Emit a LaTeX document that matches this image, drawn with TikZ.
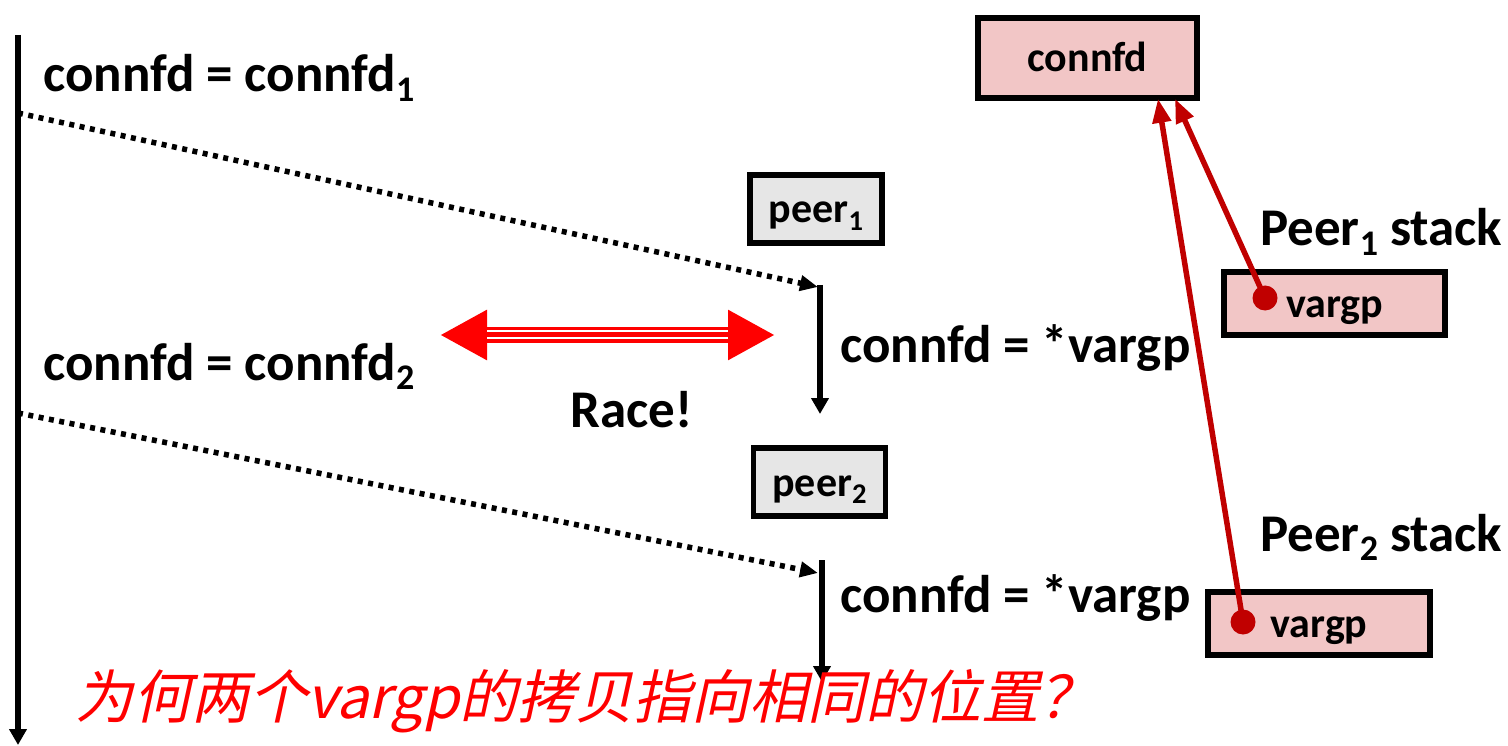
\documentclass[tikz,border=0pt]{standalone}
\usepackage{fontspec}
\setmainfont{Carlito}
\newfontfamily\cjk{Noto Sans CJK SC}[FakeSlant=0.22]
\usetikzlibrary{arrows.meta,calc}

\definecolor{boxgray}{HTML}{E6E6E6}
\definecolor{mempink}{HTML}{F2C6C6}
\definecolor{ptrred}{HTML}{C00000}
\definecolor{racered}{HTML}{FF0000}

% lowered small index, as in connfd_1
\newcommand\lowidx[1]{\raisebox{-0.17em}{\scalebox{0.68}{#1}}}

\tikzset{
  lbl/.style={anchor=base west, inner sep=0pt, font=\bfseries\fontsize{53}{62}\selectfont},
  threadline/.style={line width=6pt, -{Triangle[length=16pt,width=17pt]}},
  spawn/.style={line width=5.5pt, dash pattern=on 5pt off 5.5pt, -{Triangle[length=18pt,width=15pt]}},
  boxtext/.style={inner sep=0pt, text height=34pt, text depth=6pt,
    font=\bfseries\fontsize{42}{50}\selectfont},
  thrbox/.style={boxtext, draw, line width=5.5pt, fill=boxgray, minimum width=132pt, minimum height=68pt},
  membox/.style={boxtext, draw, line width=5.5pt, fill=mempink},
  ptr/.style={ptrred, line width=5.5pt, -{Triangle[length=24pt,width=18pt]}},
  ptrdot/.style={circle, fill=ptrred, inner sep=0pt, minimum size=25pt},
}

\begin{document}
\begin{tikzpicture}[x=1pt,y=-1pt]
\useasboundingbox (0,0) rectangle (1508,746);

% main thread timeline
\coordinate (mtop) at (18,35);
\coordinate (mbot) at (18,745);
\draw[threadline] (mtop) -- (mbot);
\node[lbl] (acc1) at (43,92) {connfd = connfd\lowidx{1}};
\node[lbl] (acc2) at (43,380) {connfd = connfd\lowidx{2}};

% spawn points on the main timeline
\coordinate (s1) at (18,113);
\coordinate (s2) at (18,413);

% peer thread 1
\node[thrbox] (peer1) at (816,209) {peer\lowidx{1}};
\coordinate (p1top) at (820,285);
\coordinate (p1bot) at (820,414);
\draw[threadline] (p1top) -- (p1bot);
\draw[spawn] (s1) -- (818,287);
\node[lbl] (rd1) at (840,362) {connfd = *vargp};

% peer thread 2
\node[thrbox] (peer2) at (819.5,482) {peer\lowidx{2}};
\coordinate (p2top) at (822,560);
\coordinate (p2bot) at (822,682);
\draw[threadline] (p2top) -- (p2bot);
\draw[spawn] (s2) -- (818,573);
\node[lbl] (rd2) at (840,612) {connfd = *vargp};

% race marker: double-headed arrow with striped shaft
\coordinate (ra) at (440,335);
\coordinate (rb) at (775,335);
\draw[racered, line width=16.6pt,
  {Triangle[length=47pt,width=47pt]}-{Triangle[length=47pt,width=47pt]}] (ra) -- (rb);
\draw[white, line width=2.2pt] ($(ra)+(47,-3.7)$) -- ($(rb)+(-47,-3.7)$);
\draw[white, line width=2.2pt] ($(ra)+(47,2.8)$) -- ($(rb)+(-47,2.8)$);
\node[lbl] (race) at (570,427) {Race!};

% shared variable in the main thread
\node[membox, minimum width=219pt, minimum height=80pt] (cbox) at (1087.5,58) {connfd};

% peer stacks
\node[lbl] (st1) at (1260,246) {Peer\lowidx{1} stack};
\node[membox, minimum width=221pt, minimum height=63pt] (v1) at (1334.5,303.5) {vargp};
\node[lbl] (st2) at (1260,551) {Peer\lowidx{2} stack};
\node[membox, minimum width=222pt, minimum height=63pt] (v2) at (1319,623.5) {vargp};

% pointers from both vargp copies to connfd
\node[ptrdot] (d1) at (1265,298) {};
\node[ptrdot] (d2) at (1243,622) {};
\coordinate (t1) at ($(cbox.south)+(87.5,-2)$);
\coordinate (t2) at ($(cbox.south)+(70.5,-2)$);
\draw[ptr] (d1.center) -- (t1);
\draw[ptr] (d2.center) -- (t2);

% question
\node[anchor=base west, inner sep=0pt, text=racered, font=\cjk\fontsize{58}{66}\selectfont]
  (q) at (75,718) {为何两个vargp的拷贝指向相同的位置？};
\end{tikzpicture}
\end{document}
